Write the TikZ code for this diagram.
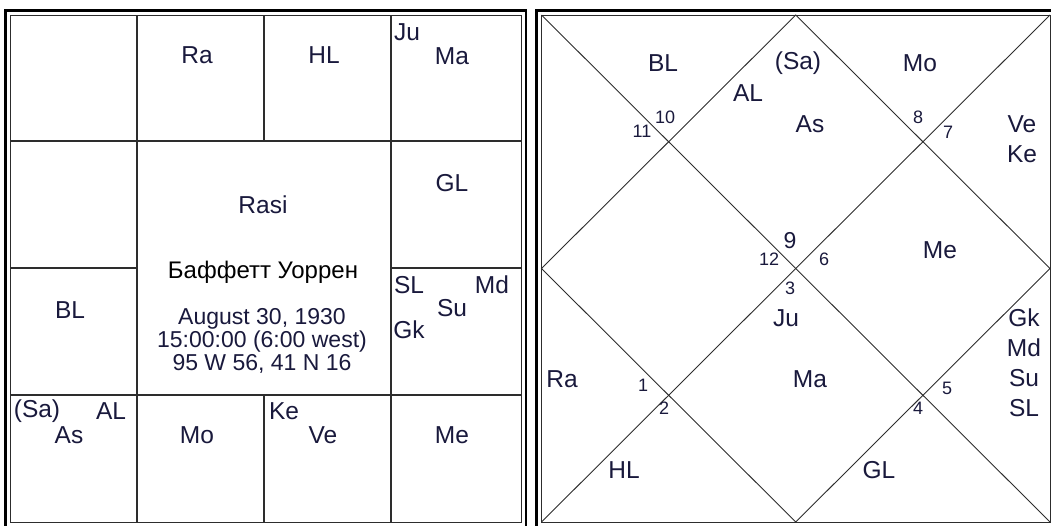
\documentclass[tikz,border=0pt]{standalone}
\usepackage{fontspec}
\setmainfont{Liberation Sans}
\usepackage{tikz}
\definecolor{ink}{RGB}{25,25,60}
\definecolor{rulegray}{RGB}{45,45,45}

\begin{document}
\begin{tikzpicture}[x=1pt, y=-1pt,
	every node/.style={font=\fontsize{24.5}{26}\selectfont, text=ink, inner sep=0pt},
	housenum/.style={font=\fontsize{18}{19}\selectfont},
	outerframe/.style={line width=2.6pt, draw=black},
	innerframe/.style={line width=1pt, draw=rulegray},
	gridline/.style={line width=1.4pt, draw=rulegray},
	diagline/.style={line width=0.9pt, draw=rulegray}]
	\useasboundingbox (0,0) rectangle (1051,525);
	\clip (0,0) rectangle (1051,525);

	% Panel (a): square Rasi chart
	\begin{scope}
		\draw[outerframe] (5.5,10.5) rectangle (526,527);
		\draw[innerframe] (10.5,15) rectangle (521,522);
		\draw[gridline] (10.5,141) -- (521,141);
		\draw[gridline] (10.5,395) -- (521,395);
		\draw[gridline] (10.5,268) -- (137,268);
		\draw[gridline] (391,268) -- (521,268);
		\draw[gridline] (137,15) -- (137,522);
		\draw[gridline] (391,15) -- (391,522);
		\draw[gridline] (264,15) -- (264,141);
		\draw[gridline] (264,395) -- (264,522);
		\node (sqRa) at (197,55) {Ra};
		\node (sqHL) at (324,55) {HL};
		\node (sqJu) at (407,32) {Ju};
		\node (sqMa) at (452,56) {Ma};
		\node (sqGL) at (452,183) {GL};
		\node (sqRasi) at (263,205) {Rasi};
		\node[text=black, font=\fontsize{24}{26}\selectfont] (sqName) at (263,272) {Баффетт Уоррен};
		\node[font=\fontsize{23}{23}\selectfont, align=center] (sqBirth) at (262,341)
			{August 30, 1930\\15:00:00 (6:00 west)\\95 W 56, 41 N 16};
		\node (sqBL) at (70,310) {BL};
		\node (sqSL) at (409,285) {SL};
		\node (sqMd) at (492,285) {Md};
		\node (sqSu) at (452,308) {Su};
		\node (sqGk) at (409,330) {Gk};
		\node (sqSa) at (37,411) {(Sa)};
		\node (sqAL) at (111,411) {AL};
		\node (sqAs) at (69,435) {As};
		\node (sqMo) at (197,435) {Mo};
		\node (sqKe) at (284,411) {Ke};
		\node (sqVe) at (323,435) {Ve};
		\node (sqMe) at (452,435) {Me};
	\end{scope}

	% Panel (b): diamond chart
	\begin{scope}
		\draw[outerframe] (536.5,10.5) rectangle (1055,527);
		\draw[innerframe] (541.5,15) rectangle (1050,522);
		\draw[diagline] (541.5,15) -- (1050,522);
		\draw[diagline] (1050,15) -- (541.5,522);
		\draw[diagline] (795.75,15) -- (1050,268.5) -- (795.75,522) -- (541.5,268.5) -- cycle;
		% house numbers
		\node[housenum] (dNum10) at (665,117) {10};
		\node[housenum] (dNum11) at (642,131) {11};
		\node[housenum] (dNum8) at (918,117) {8};
		\node[housenum] (dNum7) at (948,132) {7};
		\node[font=\fontsize{23}{24}\selectfont] (dNum9) at (790,241) {9};
		\node[housenum] (dNum12) at (769,259) {12};
		\node[housenum] (dNum6) at (824,259) {6};
		\node[housenum] (dNum3) at (790,288) {3};
		\node[housenum] (dNum1) at (643,385) {1};
		\node[housenum] (dNum2) at (664,408) {2};
		\node[housenum] (dNum5) at (947,388) {5};
		\node[housenum] (dNum4) at (918,408) {4};
		% planets
		\node (dBL) at (663,63) {BL};
		\node (dSa) at (798,63) {(Sa)};
		\node (dMo) at (920,63) {Mo};
		\node (dAL) at (748,93) {AL};
		\node (dAs) at (810,124) {As};
		\node (dVe) at (1022,124) {Ve};
		\node (dKe) at (1022,154) {Ke};
		\node (dMe) at (940,250) {Me};
		\node (dJu) at (786,318) {Ju};
		\node (dGk) at (1024,318) {Gk};
		\node (dMd) at (1024,348) {Md};
		\node (dSu) at (1024,378) {Su};
		\node (dSL) at (1024,408) {SL};
		\node (dRa) at (562,379) {Ra};
		\node (dMa) at (810,379) {Ma};
		\node (dHL) at (624,470) {HL};
		\node (dGL) at (879,470) {GL};
	\end{scope}
\end{tikzpicture}
\end{document}
